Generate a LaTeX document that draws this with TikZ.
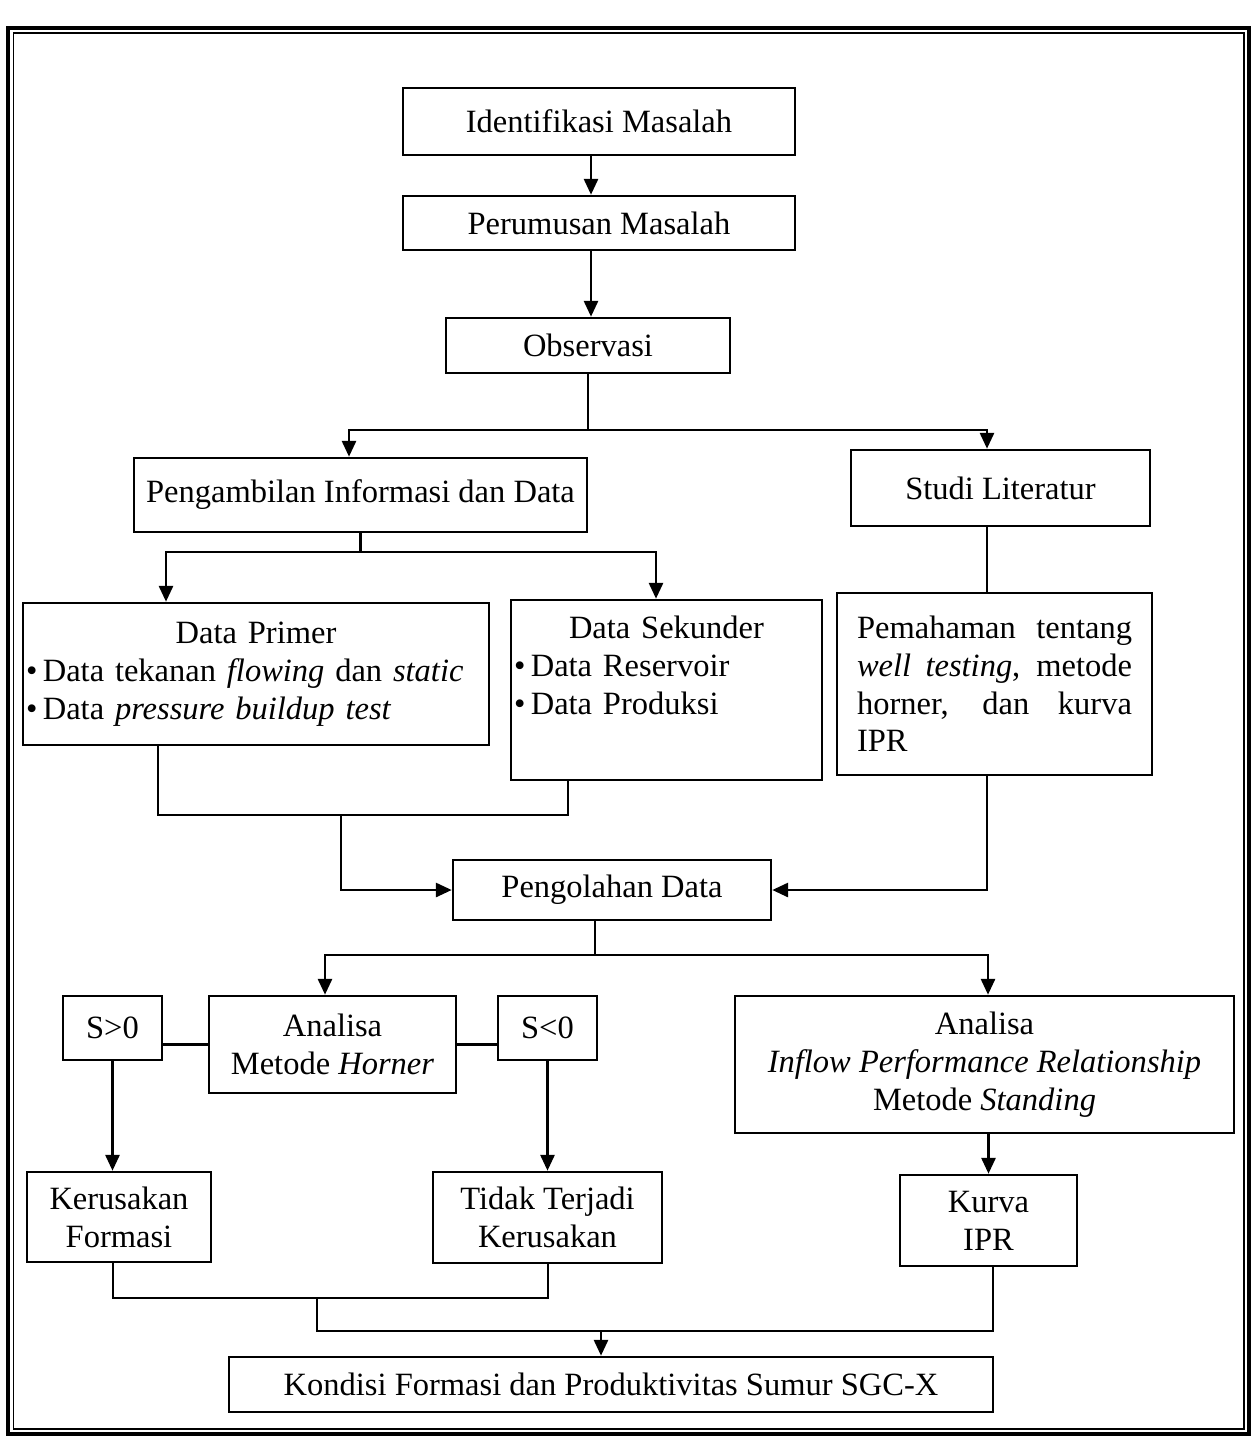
\documentclass[tikz,border=0pt]{standalone}
\usepackage{fontspec}
\setmainfont{Liberation Serif}
\usetikzlibrary{positioning,arrows.meta}

\begin{document}
\begin{tikzpicture}[
  x=0.02cm, y=-0.02cm,
  font=\fontsize{18.5}{21.5}\selectfont,
  box/.style={draw, line width=1.5pt, inner sep=0pt, align=center},
  lst/.style={box, inner xsep=0.06cm, align=left},
  ln/.style={line width=1.4pt, line join=miter},
  arr/.style={ln, -{Triangle[length=9pt, width=8pt]}},
  arrs/.style={ln, {Triangle[length=9pt, width=8pt]}-{Triangle[length=9pt, width=8pt]}}
]
\useasboundingbox (0,0) rectangle (1254,1437);
% ----- double frame -----
\draw[line width=2.3pt] (8,28) rectangle (1249,1434);
\draw[line width=1.1pt] (13.5,33) rectangle (1244,1429);
% ----- top of the flow -----
\node[box, minimum width=7.84cm, minimum height=1.34cm] (idm) at (599,121.5) {Identifikasi Masalah};
\node[box, minimum width=7.84cm, minimum height=1.08cm] (rum) at (599,223) {Perumusan Masalah};
\node[box, minimum width=5.68cm, minimum height=1.10cm] (obs) at (588,345.5) {Observasi};
\node[box, minimum width=9.06cm, minimum height=1.48cm] (amb) at (360.5,495) {Pengambilan Informasi dan Data};
\node[box, minimum width=5.98cm, minimum height=1.52cm] (stu) at (1000.5,488) {Studi Literatur};
% ----- data and literature -----
\node[lst, text width=9.2cm, minimum height=2.84cm] (pri) at (256,674)
  {\centerline{Data Primer}\\
   \textbullet\,Data tekanan \textit{flowing} dan \textit{static}\\
   \textbullet\,Data \textit{pressure buildup test}};
\node[lst, text width=6.1cm, minimum height=3.60cm] (sek) at (666.5,690)
  {\centerline{Data Sekunder}\\
   \textbullet\,Data Reservoir\\
   \textbullet\,Data Produksi\\ \strut};
\node[box, inner xsep=0.4cm, text width=5.5cm, align=justify, minimum height=3.64cm] (pem) at (994.5,684)
  {Pemahaman tentang\linebreak \textit{well testing}, metode\linebreak horner, dan kurva\linebreak IPR};
\node[box, minimum width=6.36cm, minimum height=1.20cm] (olah) at (612,890) {Pengolahan Data};
% ----- analysis -----
\node[box, minimum width=4.94cm, minimum height=1.94cm] (hor) at (332.5,1044.5) {Analisa\\Metode \textit{Horner}};
\node[box, minimum width=1.98cm, minimum height=1.28cm] (sp) at (112.5,1028) {S>0};
\node[box, minimum width=1.98cm, minimum height=1.28cm] (sn) at (547.5,1028) {S<0};
\node[box, minimum width=9.98cm, minimum height=2.74cm] (ipr) at (984.5,1064.5)
  {Analisa\\\textit{Inflow Performance Relationship}\\Metode \textit{Standing}};
\node[box, minimum width=3.68cm, minimum height=1.80cm] (ker) at (119,1217) {Kerusakan\\Formasi};
\node[box, minimum width=4.58cm, minimum height=1.82cm] (tdk) at (547.5,1217.5) {Tidak Terjadi\\Kerusakan};
\node[box, minimum width=3.54cm, minimum height=1.82cm] (kur) at (988.5,1220.5) {Kurva\\IPR};
\node[box, minimum width=15.28cm, minimum height=1.10cm] (kon) at (611,1384.5) {Kondisi Formasi dan Produktivitas Sumur SGC-X};
% ----- turning points -----
\coordinate (m1) at (591,0);    \coordinate (m2) at (595,0);
\coordinate (a1) at (349,430);  \coordinate (a2) at (987,430);
\coordinate (b1) at (166,552);  \coordinate (b2) at (656,552);
\coordinate (c1) at (158,815);  \coordinate (c2) at (568,815);  \coordinate (c3) at (341,815);
\coordinate (d1) at (325,955);  \coordinate (d2) at (988,955);
\coordinate (e1) at (113,1298); \coordinate (e2) at (548,1298);
\coordinate (f1) at (317,1331); \coordinate (f2) at (993,1331); \coordinate (f3) at (601,1331);
% ----- connectors -----
\draw[arr] (m1 |- idm.south) -- (m1 |- rum.north);
\draw[arr] (m1 |- rum.south) -- (m1 |- obs.north);
\draw[ln] (obs.south) -- (obs.south |- a1);
\draw[arrs] (a1 |- amb.north) -- (a1) -- (a2) -- (a2 |- stu.north);
\draw[ln] (amb.south) -- (amb.south |- b1);
\draw[arrs] (b1 |- pri.north) -- (b1) -- (b2) -- (b2 |- sek.north);
\draw[ln] (a2 |- stu.south) -- (a2 |- pem.north);
\draw[ln] (c1 |- pri.south) -- (c1) -- (c2) -- (c2 |- sek.south);
\draw[arr] (c3) |- (olah.west);
\draw[arr] (a2 |- pem.south) |- (olah.east);
\draw[ln] (m2 |- olah.south) -- (m2 |- d1);
\draw[arrs] (d1 |- hor.north) -- (d1) -- (d2) -- (d2 |- ipr.north);
\draw[ln] (hor.west -| sp.east) -- (hor.west);
\draw[ln] (hor.east) -- (hor.east -| sn.west);
\draw[arr] (sp.south) -- (sp.south |- ker.north);
\draw[arr] (sn.south) -- (sn.south |- tdk.north);
\draw[arr] (kur.north |- ipr.south) -- (kur.north);
\draw[ln] (e1 |- ker.south) -- (e1) -- (e2) -- (e2 |- tdk.south);
\draw[ln] (f1 |- e1) -- (f1) -- (f2) -- (f2 |- kur.south);
\draw[arr] (f3) -- (f3 |- kon.north);
\end{tikzpicture}
\end{document}
